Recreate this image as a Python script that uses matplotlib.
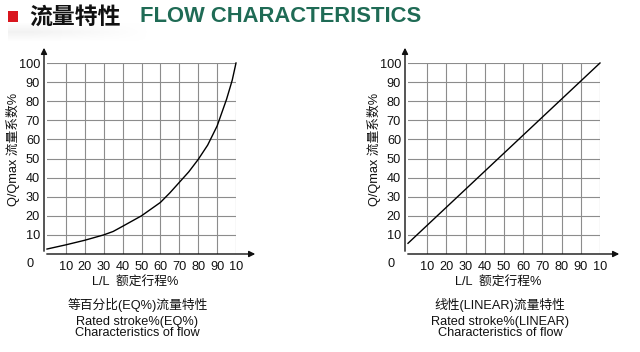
import matplotlib
matplotlib.use("Agg")
import matplotlib.pyplot as plt
import numpy as np
from matplotlib.patches import Rectangle, FancyArrowPatch

plt.rcParams['font.family'] = ['Liberation Sans', 'Noto Sans CJK SC']

# ---- data ----
stroke = [0, 10, 20, 30, 35, 40, 50, 60, 65, 70, 75, 80, 85, 90, 95, 98, 100]
eq_flow = [2.6, 4.8, 7.2, 10, 11.8, 14.5, 20, 27, 32, 37.5, 43, 49.5, 57, 67, 81, 91, 100]
lin_stroke = [0, 100]
lin_flow = [5.6, 100]
grid_vals = [10, 20, 30, 40, 50, 60, 70, 80, 90, 100]
x_tick_labels = ['10', '20', '30', '40', '50', '60', '70', '80', '90', '10']
y_tick_labels = ['10', '20', '30', '40', '50', '60', '70', '80', '90', '100']

title_cn = '流量特性'
title_en = 'FLOW CHARACTERISTICS'
y_label = 'Q/Qmax 流量系数%'
x_label = 'L/L  额定行程%'
captions = [
    ('等百分比(EQ%)流量特性', 'Rated stroke%(EQ%)\nCharacteristics of flow'),
    ('线性(LINEAR)流量特性', 'Rated stroke%(LINEAR)\nCharacteristics of flow'),
]

W, H = 640, 352
fig = plt.figure(figsize=(6.4, 3.52), dpi=100)

def fx(px):
    return px / W

def fy(py):
    return 1 - py / H

# faint header shadow
sh = fig.add_axes([fx(8), fy(42), 140 / W, 20 / H])
gx = np.linspace(0, 1, 140)
gy = np.linspace(0, 1, 20)
GX, GY = np.meshgrid(gx, gy)
alpha = np.clip((1 - GX) * 1.2, 0, 1) * np.clip(1 - np.abs(GY - 0.5) * 2, 0, 1)
img = np.zeros((20, 140, 4))
img[..., :3] = 0.9
img[..., 3] = alpha * 0.5
sh.imshow(img, aspect='auto', interpolation='bilinear')
sh.axis('off')

# header
fig.patches.append(Rectangle((fx(8), fy(22)), 10 / W, 11 / H, transform=fig.transFigure,
                             facecolor='#d9161e', edgecolor='none'))
fig.text(fx(29), fy(17), title_cn, fontsize=16.5, fontweight='bold', color='#111111',
         va='center', ha='left', family=['Noto Sans CJK SC'])
fig.text(fx(140), fy(17), title_en, fontsize=15.8, fontweight='bold', color='#1f6b55',
         va='center', ha='left', family=['Liberation Sans'])

panels = [
    dict(left=47, right=236, x=stroke, y=eq_flow, cap=captions[0]),
    dict(left=408, right=600, x=lin_stroke, y=lin_flow, cap=captions[1]),
]
top, bottom = 63, 254
fs = 9.2

for p in panels:
    ax = fig.add_axes([fx(p['left']), fy(bottom), (p['right'] - p['left']) / W, (bottom - top) / H])
    ax.set_xlim(0, 100)
    ax.set_ylim(0, 100)
    for v in grid_vals:
        ax.axvline(v, color='#8c8c8c', lw=0.8, zorder=1)
        ax.axhline(v, color='#8c8c8c', lw=0.8, zorder=1)
    ax.plot(p['x'], p['y'], color='black', lw=1.0, zorder=3, clip_on=False)
    for s in ax.spines.values():
        s.set_visible(False)
    ax.set_xticks(grid_vals)
    ax.set_xticklabels(x_tick_labels)
    ax.set_yticks(grid_vals)
    ax.set_yticklabels(y_tick_labels)
    ax.tick_params(length=0, labelsize=fs, pad=5, colors='#111111')
    ax.patch.set_visible(False)
    # axes with arrows
    x0 = fx(p['left'] - 3)
    y0 = fy(bottom)
    fig.patches.append(FancyArrowPatch((x0, y0), (fx(p['right'] + 22), y0),
                                       transform=fig.transFigure, arrowstyle='-|>',
                                       mutation_scale=9, lw=1.0, color='#111111'))
    fig.patches.append(FancyArrowPatch((x0, y0), (x0, fy(45)),
                                       transform=fig.transFigure, arrowstyle='-|>',
                                       mutation_scale=9, lw=1.0, color='#111111'))
    ax.text(-7, -2, '0', transform=ax.transData, fontsize=fs, ha='right', va='top', color='#111111')
    ax.set_ylabel(y_label, fontsize=fs, color='#111111')
    ax.yaxis.set_label_coords(-34 / (p['right'] - p['left']), (bottom - 149) / (bottom - top))
    ax.yaxis.label.set_va('center')
    cx = fx((p['left'] + p['right']) / 2 - 4)
    fig.text(cx - 2 / W, fy(283), x_label, fontsize=fs, ha='center', va='center', color='#111111')
    fig.text(cx, fy(305), p['cap'][0], fontsize=fs, ha='center', va='center', color='#111111')
    fig.text(cx, fy(327.5), p['cap'][1], fontsize=fs, ha='center', va='center', color='#111111',
             linespacing=0.95)

fig.savefig('out.png', dpi=100)
